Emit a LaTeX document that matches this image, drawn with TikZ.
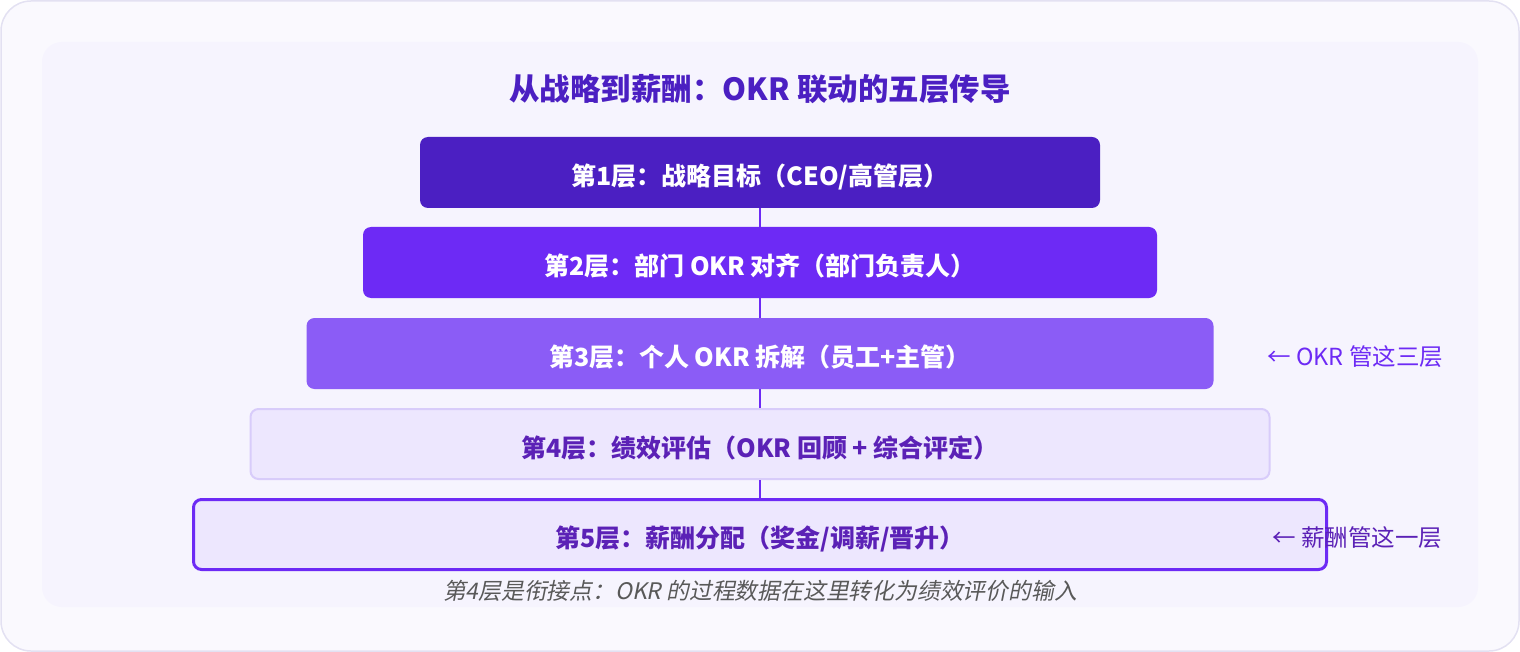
\documentclass[tikz,border=0pt]{standalone}
\usepackage{fontspec}
\setmainfont{Noto Sans CJK SC}
\newfontfamily\slantfont[FakeSlant=0.2]{Noto Sans CJK SC}
\usetikzlibrary{positioning}

\definecolor{deep}{HTML}{4B1FC2}
\definecolor{vivid}{HTML}{6D2AF5}
\definecolor{soft}{HTML}{8B5CF6}
\definecolor{pale}{HTML}{EDE7FE}
\definecolor{paleline}{HTML}{D8CCFA}
\definecolor{ink}{HTML}{5B21B6}
\definecolor{frame}{HTML}{E3E1F2}
\definecolor{paper}{HTML}{FAF9FE}
\definecolor{panel}{HTML}{F6F4FE}

\begin{document}
\begin{tikzpicture}[x=1pt, y=-1pt,
  layer/.style = {rectangle, rounded corners=8pt, minimum height=71pt, inner sep=0pt,
    text height=26pt, text depth=0pt, font=\fontsize{25}{29}\selectfont\bfseries},
  note/.style = {anchor=west, font=\fontsize{23.5}{27}\selectfont}]
  \useasboundingbox (0,0) rectangle (1520,652);
  \draw[frame, fill=paper, line width=1.5pt, rounded corners=30pt] (1,1) rectangle (1519,651);
  \fill[panel, rounded corners=20pt] (42,42) rectangle (1478,607);

  \node (title) at (760,89) [text=deep, font=\fontsize{30.5}{35}\selectfont\bfseries]
    {从战略到薪酬：OKR 联动的五层传导};

  % the five layers
  \node (l1) at (760,172.5) [layer, fill=deep, text=white, minimum width=680pt]
    {第1层：战略目标（CEO/高管层）};
  \node (l2) at (760,262.5) [layer, fill=vivid, text=white, minimum width=794pt]
    {第2层：部门 OKR 对齐（部门负责人）};
  \node (l3) at (760,353.5) [layer, fill=soft, text=white, minimum width=907pt]
    {第3层：个人 OKR 拆解（员工+主管）};
  \node (l4) at (760,444) [layer, fill=pale, draw=paleline, line width=2pt, text=ink,
    minimum width=1019pt, minimum height=70pt]
    {第4层：绩效评估（OKR 回顾 + 综合评定）};
  \node (l5) at (760,534.5) [layer, fill=pale, draw=vivid, line width=3pt, text=ink,
    minimum width=1133pt, minimum height=70pt]
    {第5层：薪酬分配（奖金/调薪/晋升）};

  \foreach \a/\b in {l1/l2, l2/l3, l3/l4, l4/l5}
    \draw[vivid, line width=2pt] (\a.south) -- (\b.north);

  \node (okrnote) at (1264,357) [note, text=vivid] {← OKR 管这三层};
  \node (paynote) at (1269,538) [note, text=ink] {← 薪酬管这一层};

  \node (caption) at (760,591) [text=black!65, font=\fontsize{22.8}{26}\selectfont\slantfont]
    {第4层是衔接点：OKR 的过程数据在这里转化为绩效评价的输入};
\end{tikzpicture}
\end{document}
